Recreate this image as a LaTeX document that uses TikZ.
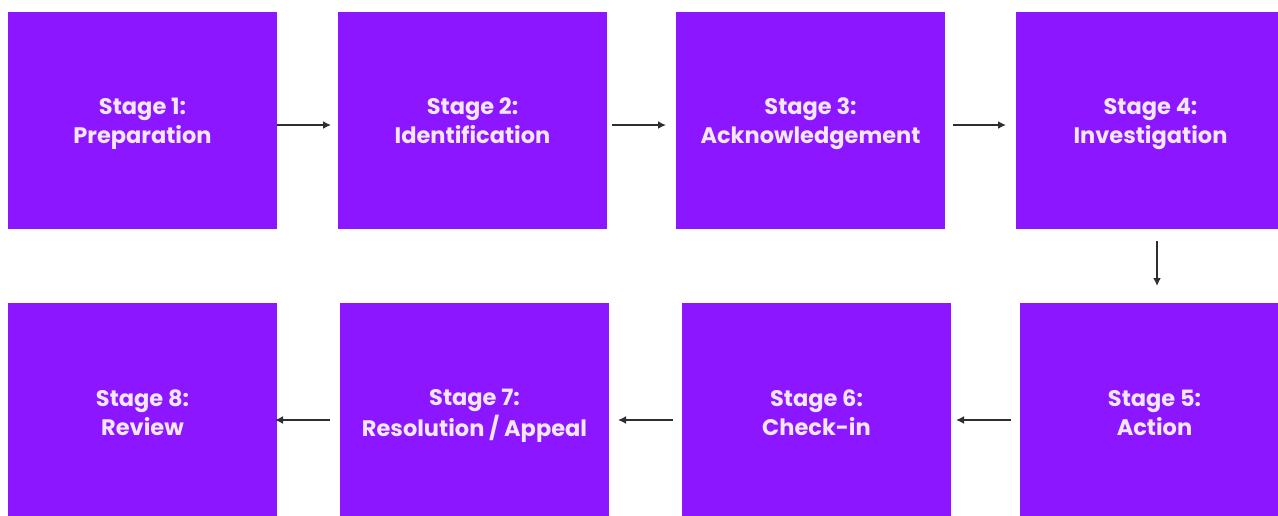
\documentclass[tikz,border=0pt]{standalone}
\usepackage{fontspec}
\setmainfont{Poppins}
\usetikzlibrary{arrows.meta}
\definecolor{stagepurple}{HTML}{8B16FF}
\definecolor{stagetext}{HTML}{F4E6FF}
\definecolor{arrowgray}{HTML}{2E2E2E}
\newcommand{\stagelines}[2]{#1\strut\\#2\strut}
\tikzset{
  stagebox/.style={fill=stagepurple, draw=none, inner sep=0pt,
    minimum width=269pt, minimum height=218pt},
  stagelabel/.style={text=stagetext, inner sep=0pt, yshift=-3pt,
    font=\fontsize{22.5}{29}\selectfont\bfseries, align=center},
  flowarrow/.style={draw=arrowgray, line width=2pt, -{Latex[length=8pt,width=8pt]}}
}
\begin{document}
\begin{tikzpicture}[x=1pt,y=-1pt]
\useasboundingbox (0,0) rectangle (1278,515);
\fill[white] (0,0) rectangle (1278,515);
% row 1
\node[stagebox, minimum height=217pt] (s1) at (142.5,120.5) {};
\node[stagebox, minimum height=217pt] (s2) at (472.5,120.5) {};
\node[stagebox, minimum height=217pt] (s3) at (810.5,120.5) {};
\node[stagebox, minimum height=217pt] (s4) at (1150.5,120.5) {};
% row 2
\node[stagebox] (s5) at (1154.5,412) {};
\node[stagebox] (s6) at (816.5,412) {};
\node[stagebox] (s7) at (474.5,412) {};
\node[stagebox] (s8) at (142.5,412) {};
% labels
\node[stagelabel] (t1) at (s1.center) {\stagelines{Stage 1:}{Preparation}};
\node[stagelabel] (t2) at (s2.center) {\stagelines{Stage 2:}{Identification}};
\node[stagelabel] (t3) at (s3.center) {\stagelines{Stage 3:}{Acknowledgement}};
\node[stagelabel] (t4) at (s4.center) {\stagelines{Stage 4:}{Investigation}};
\node[stagelabel] (t5) at (s5.center) {\stagelines{Stage 5:}{Action}};
\node[stagelabel] (t6) at (s6.center) {\stagelines{Stage 6:}{Check-in}};
\node[stagelabel] (t7) at (s7.center) {\stagelines{Stage 7:}{Resolution / Appeal}};
\node[stagelabel] (t8) at (s8.center) {\stagelines{Stage 8:}{Review}};
% connector endpoints
\coordinate (a1s) at (277,125); \coordinate (a1e) at (331,125);
\coordinate (a2s) at (612,125); \coordinate (a2e) at (666,125);
\coordinate (a3s) at (953,125); \coordinate (a3e) at (1006,125);
\coordinate (a4s) at (1157,241); \coordinate (a4e) at (1157,286);
\coordinate (a5s) at (1011,420); \coordinate (a5e) at (956,420);
\coordinate (a6s) at (673,420); \coordinate (a6e) at (618,420);
\coordinate (a7s) at (330,420); \coordinate (a7e) at (275,420);
\draw[flowarrow] (a1s) -- (a1e);
\draw[flowarrow] (a2s) -- (a2e);
\draw[flowarrow] (a3s) -- (a3e);
\draw[flowarrow] (a4s) -- (a4e);
\draw[flowarrow] (a5s) -- (a5e);
\draw[flowarrow] (a6s) -- (a6e);
\draw[flowarrow] (a7s) -- (a7e);
\end{tikzpicture}
\end{document}
